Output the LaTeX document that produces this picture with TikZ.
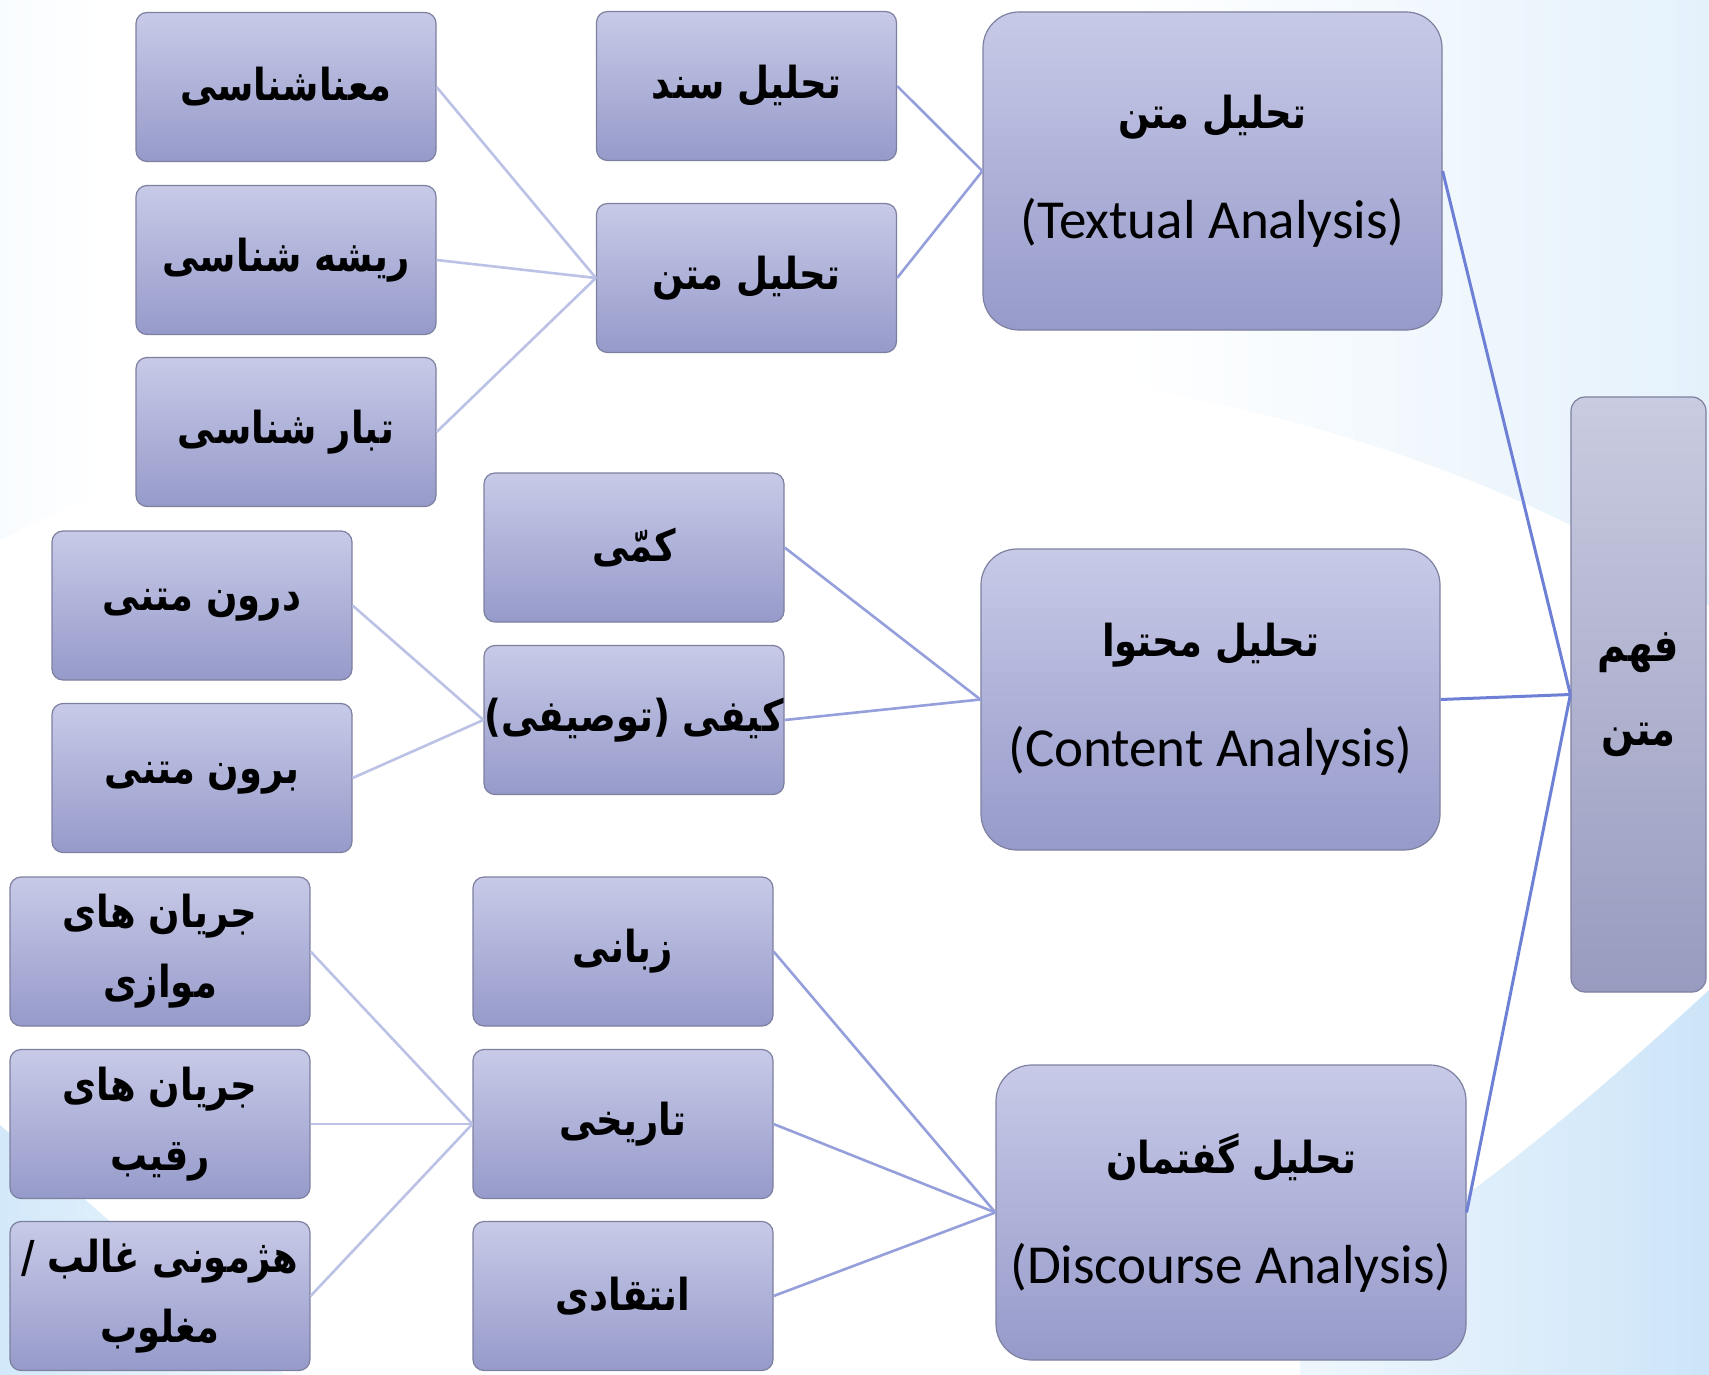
\documentclass[tikz,border=0pt]{standalone}
\usepackage{fontspec}
\setmainfont{Carlito}
\newfontfamily\fa[Script=Arabic,FakeStretch=0.84]{DejaVu Sans}
\TeXXeTstate=1
\usetikzlibrary{shadings}
\definecolor{bgblue}{HTML}{C4E1F8}
\definecolor{bgblueb}{HTML}{BCDCF6}
\definecolor{boxtop}{HTML}{C7CAE7}
\definecolor{boxbot}{HTML}{969ACA}
\definecolor{boxline}{HTML}{7E80A0}
\definecolor{fahmtop}{HTML}{C9CBE0}
\definecolor{fahmbot}{HTML}{989BBF}
\definecolor{lnlight}{HTML}{BCC2E6}
\definecolor{lnmid}{HTML}{949FDB}
\definecolor{lndark}{HTML}{6E80D6}
\pgfdeclarehorizontalshading{bgsh}{100bp}{color(0bp)=(bgblue); color(28bp)=(white); color(58bp)=(white); color(100bp)=(bgblueb)}
\pgfdeclarehorizontalshading{brsh}{100bp}{color(0bp)=(white); color(100bp)=(bgblueb)}
\pgfdeclarehorizontalshading{blsh}{100bp}{color(0bp)=(bgblue); color(100bp)=(white)}
\newcommand\pers[1]{\beginR #1\endR}
\tikzset{
  sbox/.style={draw=boxline, line width=1.2pt, rounded corners=11pt,
    top color=boxtop, bottom color=boxbot, minimum width=300pt,
    minimum height=149pt, inner sep=0pt, align=center,
    font=\fontsize{44}{70}\selectfont\fa\bfseries},
  bbox/.style={draw=boxline, line width=1.2pt, rounded corners=36pt,
    top color=boxtop, bottom color=boxbot, minimum width=459pt,
    inner sep=0pt, align=center, font=\fontsize{44}{110}\selectfont},
  fbox/.style={draw=boxline, line width=1.2pt, rounded corners=14pt,
    top color=fahmtop, bottom color=fahmbot, minimum width=135pt,
    minimum height=595pt, inner sep=0pt, align=center,
    font=\fontsize{46}{84}\selectfont\fa\bfseries},
  l1/.style={draw=lnlight, line width=2.6pt},
  l2/.style={draw=lnmid, line width=2.6pt},
  l3/.style={draw=lndark, line width=3pt},
}
\newcommand\lat[1]{{\fontsize{55}{110}\selectfont #1}}
\newcommand\hd[1]{{\fa\bfseries\pers{#1}}}
\begin{document}
\begin{tikzpicture}[x=1pt,y=-1pt]
\useasboundingbox (0,0) rectangle (1709,1375);
% background
\shade[shading=bgsh] (0,0) rectangle (1709,1375);
\fill[white] (800,1060) ellipse [x radius=1194, y radius=700];
\shade[shading=blsh] (0,1125) -- (285,1375) -- (0,1375) -- cycle;
\shade[shading=brsh] (1709,990) .. controls (1590,1100) and (1470,1200) .. (1380,1252) -- (1300,1252) -- (1300,1375) -- (1709,1375) -- cycle;
% nodes
\node[sbox] (ma) at (286,87) {\pers{معناشناسی}};
\node[sbox] (ri) at (286,260) {\pers{ریشه شناسی}};
\node[sbox] (ta) at (286,432) {\pers{تبار شناسی}};
\node[sbox] (sanad) at (746.5,86) {\pers{تحلیل سند}};
\node[sbox] (tmatn) at (746.5,278) {\pers{تحلیل متن}};
\node[bbox, minimum height=318pt] (textual) at (1212.5,171) {\hd{تحلیل متن}\\\lat{(Textual Analysis)}};
\node[sbox] (darun) at (202,605.5) {\pers{درون متنی}};
\node[sbox] (birun) at (202,778) {\pers{برون متنی}};
\node[sbox] (kammi) at (634,547.5) {\pers{کمّی}};
\node[sbox] (keyfi) at (634,720) {\pers{کیفی (توصیفی)}};
\node[bbox, minimum height=301pt] (content) at (1210.5,699.5) {\hd{تحلیل محتوا}\\\lat{(Content Analysis)}};
\node[sbox] (j1) at (160,951.5) {\pers{جریان های}\\\pers{موازی}};
\node[sbox] (j2) at (160,1124) {\pers{جریان های}\\\pers{رقیب}};
\node[sbox] (j3) at (160,1296) {\pers{هژمونی غالب /}\\\pers{مغلوب}};
\node[sbox] (zab) at (623,951.5) {\pers{زبانی}};
\node[sbox] (tar) at (623,1124) {\pers{تاریخی}};
\node[sbox] (ent) at (623,1296) {\pers{انتقادی}};
\node[bbox, minimum width=470pt, minimum height=295pt] (disc) at (1231,1212.5) {\hd{تحلیل گفتمان}\\\lat{(Discourse Analysis)}};
\node[fbox] (fahm) at (1638.5,694.5) {\pers{فهم}\\\pers{متن}};
% connectors
\draw[l1] (ma.east) -- (tmatn.west);
\draw[l1] (ri.east) -- (tmatn.west);
\draw[l1] (ta.east) -- (tmatn.west);
\draw[l2] (sanad.east) -- (textual.west);
\draw[l2] (tmatn.east) -- (textual.west);
\draw[l1] (darun.east) -- (keyfi.west);
\draw[l1] (birun.east) -- (keyfi.west);
\draw[l2] (kammi.east) -- (content.west);
\draw[l2] (keyfi.east) -- (content.west);
\draw[l1] (j1.east) -- (tar.west);
\draw[l1] (j2.east) -- (tar.west);
\draw[l1] (j3.east) -- (tar.west);
\draw[l2] (zab.east) -- (disc.west);
\draw[l2] (tar.east) -- (disc.west);
\draw[l2] (ent.east) -- (disc.west);
\draw[l3] (textual.east) -- (fahm.west);
\draw[l3] (content.east) -- (fahm.west);
\draw[l3] (disc.east) -- (fahm.west);
\end{tikzpicture}
\end{document}
